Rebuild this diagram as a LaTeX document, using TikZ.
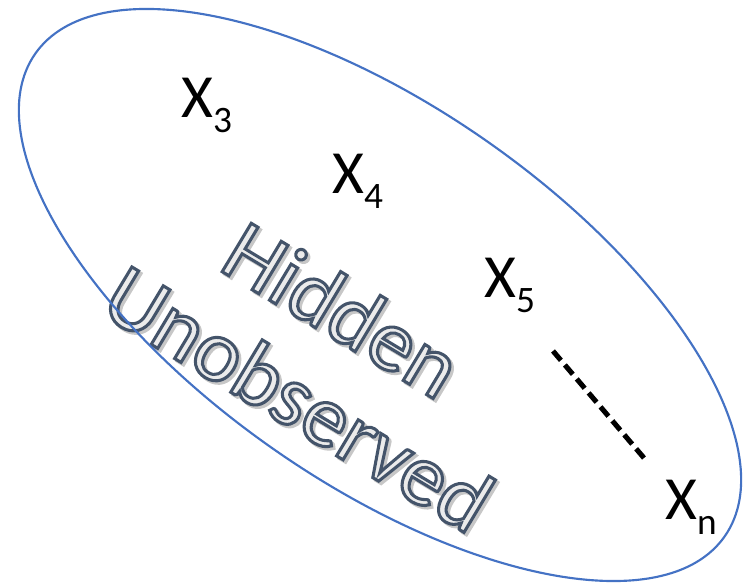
\documentclass[tikz,border=0pt]{standalone}
\usepackage{fontspec}
\setmainfont{Carlito}
\definecolor{ellblue}{HTML}{4472C4}
\definecolor{wafill}{HTML}{EBEBEB}
\definecolor{washadow}{HTML}{C8C8C8}
\newcommand\xsub[1]{X\raisebox{-11pt}{\fontsize{28}{28}\selectfont #1}}
% fill-and-stroke text rendering (outlined letters)
\newcommand\outlined[2]{\special{pdf:literal direct 2 Tr 2.3 w #1 RG}#2\special{pdf:literal direct 0 Tr}}
\begin{document}
\begin{tikzpicture}[x=0.75pt,y=-0.75pt,
  varlbl/.style={anchor=base west, inner sep=0pt, font=\fontsize{46}{46}\selectfont},
  wordart/.style={anchor=center, inner sep=0pt, rotate=-31, font=\fontsize{66}{66}\selectfont},
  hull/.style={draw=ellblue, line width=1.6pt},
  dots/.style={line width=3.8pt, dash pattern=on 9.17pt off 4.58pt}]
\useasboundingbox (0,0) rectangle (744,584);
% word art shadows
\node[wordart, text=washadow] (hidsh) at (345.5,311.5) {\outlined{0.78 0.78 0.78}{Hidden}};
\node[wordart, text=washadow] (unosh) at (301.5,400.5) {\outlined{0.78 0.78 0.78}{Unobserved}};
% word art text
\node[wordart, text=wafill] (hid) at (343,309) {\outlined{0.267 0.329 0.416}{Hidden}};
\node[wordart, text=wafill] (uno) at (299,398) {\outlined{0.267 0.329 0.416}{Unobserved}};
% ellipse
\draw[hull, rotate around={-35:(380,295)}] (380,295) ellipse [x radius=420.8, y radius=187.3];
% variables
\node[varlbl] (x3) at (181,118) {\xsub{3}};
\node[varlbl] (x4) at (332,194) {\xsub{4}};
\node[varlbl] (x5) at (484,298) {\xsub{5}};
\node[varlbl] (xn) at (665,520) {\xsub{n}};
% dashed continuation
\coordinate (d1) at (553,351);
\coordinate (d2) at (644,458);
\draw[dots] (d1) -- (d2);
\end{tikzpicture}
\end{document}
